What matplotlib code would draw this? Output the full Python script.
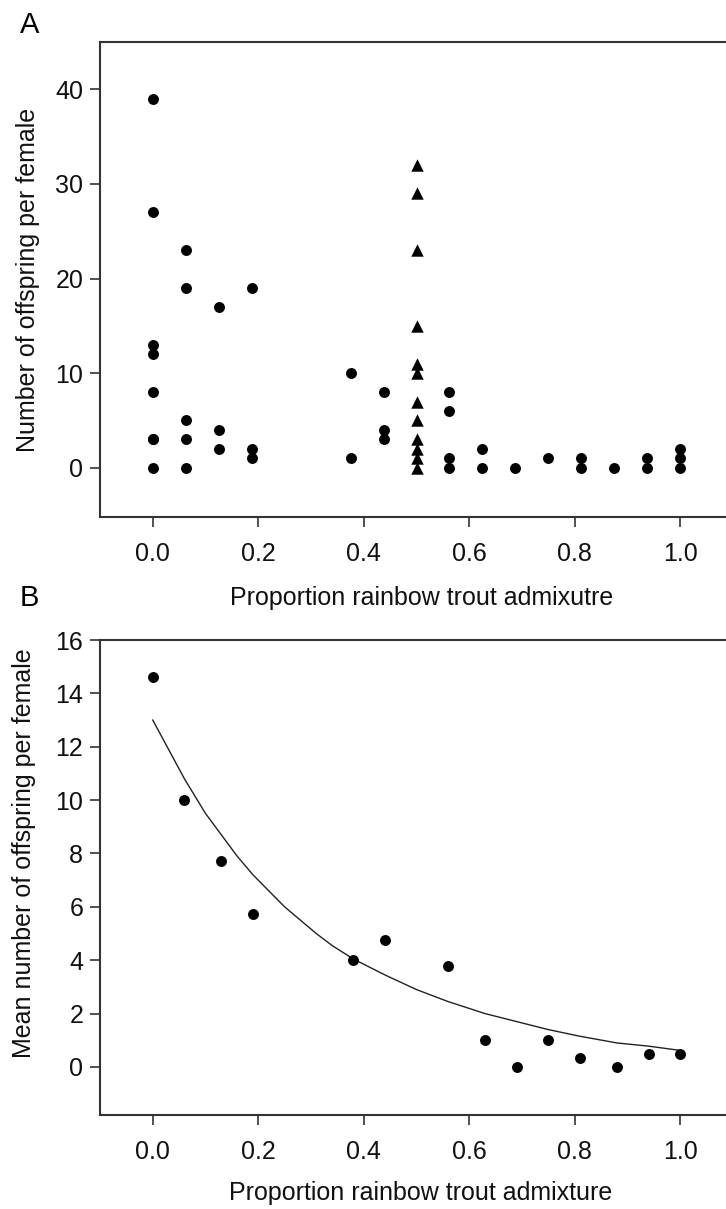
import matplotlib
matplotlib.use("Agg")
import matplotlib.pyplot as plt
import numpy as np

plt.rcParams['font.family'] = ['Liberation Sans', 'DejaVu Sans']

# ---- Panel A data: individual females ----
circ_x = [0.0]*8 + [0.0625]*5 + [0.125]*3 + [0.1875]*3 + [0.375]*2 + [0.4375]*3 \
    + [0.5625]*4 + [0.625]*2 + [0.6875] + [0.75] + [0.8125]*2 + [0.875] \
    + [0.9375]*2 + [1.0]*3
circ_y = [39, 27, 13, 12, 8, 3, 3, 0,
          23, 19, 5, 3, 0,
          17, 4, 2,
          19, 2, 1,
          10, 1,
          8, 4, 3,
          8, 6, 1, 0,
          2, 0,
          0,
          1,
          1, 0,
          0,
          1, 0,
          2, 1, 0]
tri_x = [0.5]*12
tri_y = [32, 29, 23, 15, 11, 10, 7, 5, 3, 2, 1, 0]

# ---- Panel B data: means and fitted curve ----
mean_x = [0.0, 0.06, 0.13, 0.19, 0.38, 0.44, 0.56, 0.63, 0.69, 0.75, 0.81, 0.88, 0.94, 1.0]
mean_y = [14.6, 10.0, 7.7, 5.75, 4.0, 4.75, 3.8, 1.0, 0.0, 1.0, 0.33, 0.0, 0.5, 0.5]
fit_x = [0.0, 0.03, 0.06, 0.1, 0.13, 0.16, 0.19, 0.22, 0.25, 0.28, 0.31, 0.34, 0.38,
         0.44, 0.5, 0.56, 0.63, 0.69, 0.75, 0.81, 0.88, 0.94, 1.0]
fit_y = [13.0, 11.9, 10.8, 9.5, 8.7, 7.9, 7.2, 6.6, 6.0, 5.5, 5.0, 4.55, 4.05,
         3.45, 2.9, 2.45, 2.0, 1.7, 1.4, 1.15, 0.9, 0.78, 0.62]

xticks = [0.0, 0.2, 0.4, 0.6, 0.8, 1.0]
xticklabels = ['0.0', '0.2', '0.4', '0.6', '0.8', '1.0']
yticksA = [0, 10, 20, 30, 40]
yticksB = [0, 2, 4, 6, 8, 10, 12, 14, 16]

W, H = 726, 1209
fig = plt.figure(figsize=(W/100, H/100), dpi=100)

FS = 18
SP = '#333333'
TC = '#111111'

def px_axes(left, top, right, bottom):
    return fig.add_axes([left/W, 1-bottom/H, (right-left)/W, (bottom-top)/H])

def style(ax):
    for s in ['left', 'bottom', 'top', 'right']:
        ax.spines[s].set_color(SP)
        ax.spines[s].set_linewidth(1.5)
    ax.tick_params(axis='both', direction='out', length=7, width=1.2, color=SP,
                   labelsize=FS, labelcolor=TC)
    ax.tick_params(axis='x', pad=11)
    ax.tick_params(axis='y', pad=5)
    ax.tick_params(top=False, right=False)

axA = px_axes(100, 42, 733, 517)
axA.scatter(circ_x, circ_y, s=62, marker='o', color='black', zorder=3, linewidths=0)
axA.scatter(tri_x, tri_y, s=80, marker='^', color='black', zorder=3, linewidths=0)
axA.set_xlim(-0.1, 1.1)
axA.set_ylim(-5.2, 45)
axA.set_xticks(xticks)
axA.set_xticklabels(xticklabels)
axA.set_yticks(yticksA)
style(axA)

axB = px_axes(100, 640, 733, 1115)
axB.plot(fit_x, fit_y, color='#222222', lw=1.0, zorder=2)
axB.scatter(mean_x, mean_y, s=62, marker='o', color='black', zorder=3, linewidths=0)
axB.set_xlim(-0.1, 1.1)
axB.set_ylim(-1.8, 16)
axB.set_xticks(xticks)
axB.set_xticklabels(xticklabels)
axB.set_yticks(yticksB)
style(axB)

# labels
fig.text(422/W, 1-598/H, 'Proportion rainbow trout admixutre', ha='center', va='center',
         fontsize=FS, color=TC)
fig.text(421/W, 1-1193/H, 'Proportion rainbow trout admixture', ha='center', va='center',
         fontsize=FS, color=TC)
fig.text(28/W, 1-280/H, 'Number of offspring per female', ha='center', va='center',
         rotation=90, fontsize=FS, color=TC)
fig.text(24/W, 1-853/H, 'Mean number of offspring per female', ha='center', va='center',
         rotation=90, fontsize=FS, color=TC)
fig.text(20/W, 1-25/H, 'A', ha='left', va='center', fontsize=21, color='black')
fig.text(20/W, 1-598/H, 'B', ha='left', va='center', fontsize=21, color='black')

fig.savefig('out.png', dpi=100)
